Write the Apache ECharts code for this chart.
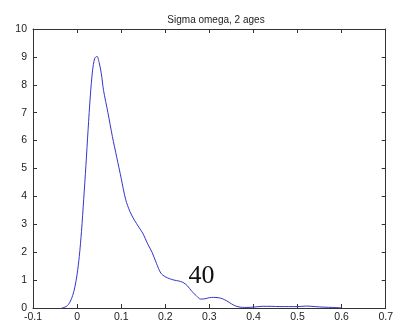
<!DOCTYPE html>
<html>
<head>
<meta charset="utf-8">
<script src="https://cdn.jsdelivr.net/npm/echarts@6/dist/echarts.min.js"></script>
<style>
  html, body { margin: 0; padding: 0; background: #fff; }
  #chart { width: 396px; height: 323px; }
</style>
</head>
<body>
<div id="chart"></div>
<script>
// Kernel density estimate of sigma omega
const xs = [-0.035, -0.03, -0.025, -0.02, -0.015, -0.01, -0.005, 0, 0.005, 0.01,
  0.015, 0.02, 0.025, 0.03, 0.035, 0.04, 0.045, 0.05, 0.055, 0.06,
  0.07, 0.08, 0.09, 0.1, 0.11, 0.12, 0.13, 0.14, 0.15, 0.16,
  0.17, 0.18, 0.19, 0.2, 0.21, 0.22, 0.23, 0.24, 0.25, 0.26,
  0.27, 0.28, 0.29, 0.3, 0.31, 0.32, 0.33, 0.34, 0.35, 0.36,
  0.37, 0.38, 0.4, 0.42, 0.44, 0.46, 0.48, 0.5, 0.52, 0.54,
  0.56, 0.58, 0.6];
const density = [0, 0.02, 0.05, 0.12, 0.25, 0.45, 0.75, 1.2, 1.85, 2.75,
  3.9, 5.1, 6.4, 7.6, 8.5, 8.95, 9.02, 8.8, 8.4, 7.8,
  7.0, 6.15, 5.4, 4.65, 3.9, 3.45, 3.15, 2.9, 2.65, 2.3,
  2.0, 1.6, 1.25, 1.12, 1.05, 1.0, 0.97, 0.92, 0.8, 0.6,
  0.45, 0.32, 0.33, 0.37, 0.38, 0.37, 0.33, 0.25, 0.15, 0.07,
  0.03, 0.02, 0.03, 0.06, 0.06, 0.05, 0.05, 0.05, 0.07, 0.05,
  0.03, 0.02, 0.01];
const titleText = 'Sigma omega, 2 ages';
const noteText = '40';
const notePos = [0.282, 0.67];

const chart = echarts.init(document.getElementById('chart'));
const axisLine = { show: true, onZero: false, lineStyle: { color: '#333', width: 1 } };
const tick = { show: true, inside: true, length: 4, lineStyle: { color: '#333' } };
const label = { color: '#222', fontSize: 10.5, fontFamily: 'Liberation Sans, Arial, sans-serif' };

chart.setOption({
  animation: false,
  backgroundColor: '#fff',
  title: {
    text: titleText,
    left: 211,
    top: 10,
    textAlign: 'center',
    textStyle: { fontSize: 10, fontWeight: 'normal', color: '#222', fontFamily: 'Liberation Sans, Arial, sans-serif' }
  },
  grid: { left: 33, right: 7, top: 29, bottom: 15 },
  xAxis: [
    { type: 'value', min: -0.1, max: 0.7, interval: 0.1, position: 'bottom',
      axisLine, axisTick: tick, splitLine: { show: false },
      axisLabel: Object.assign({ margin: 4 }, label) },
    { type: 'value', min: -0.1, max: 0.7, interval: 0.1, position: 'top',
      axisLine, axisTick: tick, splitLine: { show: false }, axisLabel: { show: false } }
  ],
  yAxis: [
    { type: 'value', min: 0, max: 10, interval: 1, position: 'left',
      axisLine, axisTick: tick, splitLine: { show: false },
      axisLabel: Object.assign({ margin: 6 }, label) },
    { type: 'value', min: 0, max: 10, interval: 1, position: 'right',
      axisLine, axisTick: tick, splitLine: { show: false }, axisLabel: { show: false } }
  ],
  series: [{
    type: 'line',
    xAxisIndex: 0,
    yAxisIndex: 0,
    data: xs.map((x, i) => [x, density[i]]),
    smooth: 0.3,
    showSymbol: false,
    lineStyle: { color: '#3535cc', width: 1 },
    markPoint: {
      symbol: 'circle',
      symbolSize: 0,
      data: [{ coord: notePos }],
      label: {
        show: true,
        formatter: noteText,
        position: 'top',
        distance: 0,
        color: '#111',
        fontSize: 26,
        fontFamily: 'Liberation Serif, Times New Roman, serif'
      }
    }
  }]
});
</script>
</body>
</html>
